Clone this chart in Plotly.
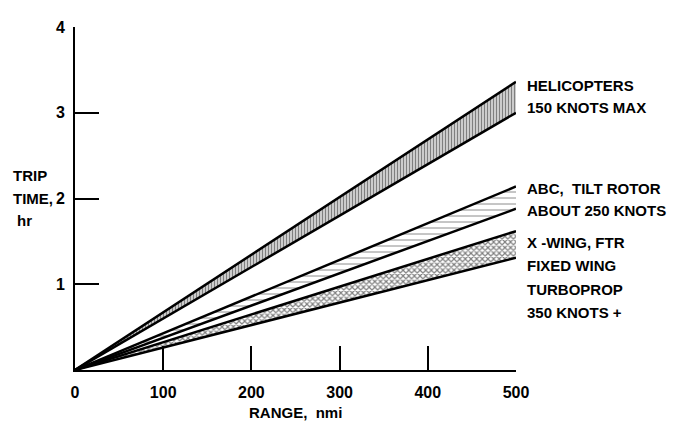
import plotly.graph_objects as go

# ---- data ----
range_nmi = [0, 500]
heli_low = [0, 3.0]
heli_high = [0, 3.36]
abc_low = [0, 1.88]
abc_high = [0, 2.14]
xwing_low = [0, 1.31]
xwing_high = [0, 1.62]

x_ticks = [0, 100, 200, 300, 400, 500]
y_ticks = [1, 2, 3, 4]

heli_label = ["HELICOPTERS", "150 KNOTS MAX"]
abc_label = ["ABC,  TILT ROTOR", "ABOUT 250 KNOTS"]
xwing_label = ["X -WING, FTR", "FIXED WING", "TURBOPROP", "350 KNOTS +"]

FONT = "Liberation Sans, Arial, sans-serif"
FS = 15

fig = go.Figure()

def band(low, high, shape, size, solidity):
    fig.add_trace(go.Scatter(x=range_nmi, y=low, mode="lines",
                             line=dict(color="black", width=2.5),
                             showlegend=False, hoverinfo="skip"))
    fig.add_trace(go.Scatter(x=range_nmi, y=high, mode="lines",
                             line=dict(color="black", width=2.5),
                             fill="tonexty", fillcolor="white",
                             fillpattern=dict(shape=shape, fgcolor="black", bgcolor="white",
                                              size=size, solidity=solidity),
                             showlegend=False, hoverinfo="skip"))

band(heli_low, heli_high, "|", 3, 0.6)
band(abc_low, abc_high, "-", 6, 0.15)
band(xwing_low, xwing_high, "x", 4, 0.5)

annotations = []
def label(lines, y_top, step):
    for i, t in enumerate(lines):
        annotations.append(dict(x=500, y=y_top - i * step, xref="x", yref="y",
                                text=t, showarrow=False, xanchor="left", yanchor="middle",
                                xshift=9,
                                font=dict(family=FONT, size=FS, color="black", weight="bold")))

label(heli_label, 3.32, 0.255)
label(abc_label, 2.12, 0.255)
label(xwing_label, 1.49, 0.275)

# y-axis title
for t, yy, xs in [("TRIP", 2.27, 0), ("TIME,", 2.0, 0), ("hr", 1.74, 4)]:
    annotations.append(dict(x=-0.145, y=yy, xref="paper", yref="y", text=t, showarrow=False,
                            xanchor="left", yanchor="middle", xshift=xs,
                            font=dict(family=FONT, size=FS, color="black", weight="bold")))
annotations.append(dict(x=0.5, y=-0.125, xref="paper", yref="paper", text="RANGE,  nmi",
                        showarrow=False, xanchor="center", yanchor="middle",
                        font=dict(family=FONT, size=FS, color="black", weight="bold")))

# page body has an 8px margin, so the figure is sized/offset to compensate
fig.update_layout(
    width=669, height=422,
    margin=dict(l=67, r=161, t=11, b=60),
    paper_bgcolor="white", plot_bgcolor="white",
    annotations=annotations,
    xaxis=dict(range=[0, 500], tickvals=x_ticks, ticks="inside", ticklen=24, tickwidth=2,
               tickcolor="black", showline=True, linecolor="black", linewidth=2,
               showgrid=False, zeroline=False, ticklabelstandoff=7,
               tickfont=dict(family=FONT, size=16, color="black", weight="bold")),
    yaxis=dict(range=[0, 4], tickvals=y_ticks, ticks="inside", ticklen=24, tickwidth=2,
               tickcolor="black", showline=True, linecolor="black", linewidth=2,
               showgrid=False, zeroline=False, ticklabelstandoff=5,
               tickfont=dict(family=FONT, size=16, color="black", weight="bold")),
)

fig.write_html("out.html")
